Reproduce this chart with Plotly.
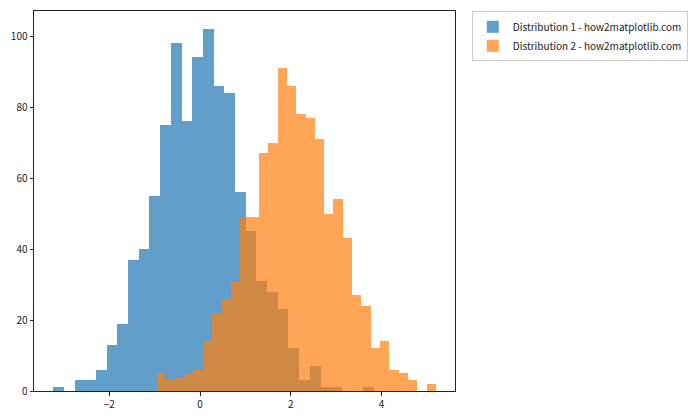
import plotly.graph_objects as go

# Histogram data (counts per bin)
dist1_range = [-3.239, 3.834]
dist1_counts = [1, 0, 3, 3, 6, 13, 19, 37, 40, 55, 75, 98, 76, 94, 102,
                86, 84, 56, 45, 31, 28, 23, 12, 3, 7, 1, 1, 0, 0, 1]
dist2_range = [-0.959, 5.196]
dist2_counts = [5, 3, 4, 5, 6, 14, 22, 26, 31, 49, 49, 67, 70, 91, 86,
                78, 77, 71, 50, 54, 43, 27, 24, 12, 14, 6, 5, 3, 0, 2]
names = ["Distribution 1 - how2matplotlib.com", "Distribution 2 - how2matplotlib.com"]
colors = ["#1f77b4", "#ff7f0e"]
x_ticks = [-2, 0, 2, 4]
y_ticks = [0, 20, 40, 60, 80, 100]


def bins(rng, counts):
    n = len(counts)
    w = (rng[1] - rng[0]) / n
    centers = [rng[0] + w * (i + 0.5) for i in range(n)]
    return centers, w


fig = go.Figure()
for rng, counts, name, col in [(dist1_range, dist1_counts, names[0], colors[0]),
                               (dist2_range, dist2_counts, names[1], colors[1])]:
    c, w = bins(rng, counts)
    fig.add_trace(go.Bar(x=c, y=counts, width=w, name=name,
                         marker=dict(color=col, line=dict(width=0)),
                         opacity=0.7))

lo = min(dist1_range[0], dist2_range[0])
hi = max(dist1_range[1], dist2_range[1])
pad = (hi - lo) * 0.05
ymax = max(max(dist1_counts), max(dist2_counts)) * 1.05

axis_common = dict(showline=True, linecolor="#222", linewidth=1, mirror=True,
                   ticks="outside", ticklen=3.5, tickwidth=1, tickcolor="#222",
                   showgrid=False, zeroline=False, automargin=False,
                   tickfont=dict(size=10, color="#222"))

fig.update_layout(
    width=700, height=420,
    barmode="overlay",
    bargap=0,
    plot_bgcolor="white", paper_bgcolor="white",
    margin=dict(l=34, r=245, t=11, b=29, pad=0),
    font=dict(family="Noto Sans CJK SC, Noto Sans, sans-serif", size=10, color="#222"),
    xaxis=dict(range=[lo - pad, hi + pad], tickvals=x_ticks, **axis_common),
    yaxis=dict(range=[0, ymax], tickvals=y_ticks, **axis_common),
    legend=dict(xref="container", yref="container", x=0.674, y=0.973,
                xanchor="left", yanchor="top",
                bordercolor="#cccccc", borderwidth=1, bgcolor="white",
                font=dict(size=10, color="#222"), tracegroupgap=0,
                itemwidth=30),
    showlegend=True,
)

fig.write_html("out.html")
